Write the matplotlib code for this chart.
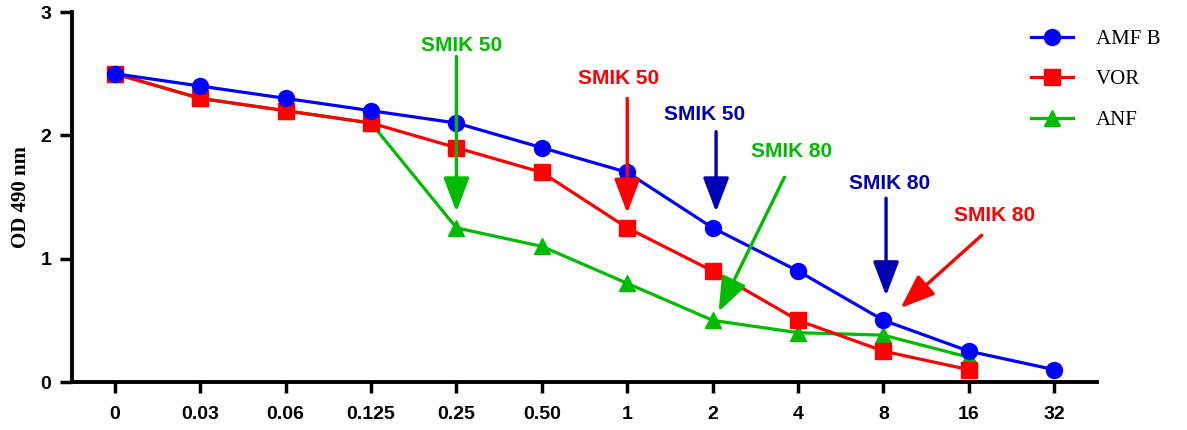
import matplotlib
matplotlib.use("Agg")
import matplotlib.pyplot as plt

# 数据
concentrations = ["0", "0.03", "0.06", "0.125", "0.25", "0.50", "1", "2", "4", "8", "16", "32"]
amfb_od = [2.5, 2.4, 2.3, 2.2, 2.1, 1.9, 1.7, 1.25, 0.9, 0.5, 0.25, 0.1]
vor_od = [2.5, 2.3, 2.2, 2.1, 1.9, 1.7, 1.25, 0.9, 0.5, 0.25, 0.1]
anf_od = [2.5, 2.3, 2.2, 2.1, 1.25, 1.1, 0.8, 0.5, 0.4, 0.38, 0.2]

series_names = ["AMF B", "VOR", "ANF"]

# annotation: text, colour, tail (x, y), tip (x, y), text centre (x, y)
smik_labels = ["SMIK 50", "SMIK 50", "SMIK 50", "SMIK 80", "SMIK 80", "SMIK 80"]
smik_colors = ["#00BB00", "#FF0000", "#0000B4", "#00BB00", "#0000B4", "#FF0000"]
smik_tail = [(4, 2.64), (6, 2.30), (7.04, 2.03), (7.84, 1.66), (9.03, 1.49), (10.15, 1.19)]
smik_tip = [(4, 1.38), (6, 1.37), (7.04, 1.38), (7.07, 0.57), (9.03, 0.70), (9.2, 0.60)]
smik_text = [(4.06, 2.73), (5.9, 2.46), (6.91, 2.17), (7.92, 1.87), (9.07, 1.61), (10.3, 1.35)]


def main():
    fig = plt.figure(figsize=(11.87, 4.30), dpi=100)
    ax = fig.add_axes([0.0607, 0.1116, 0.8635, 0.8604])

    xs = list(range(len(concentrations)))

    # 先画 ANF，再画 VOR，最后 AMF B（叠放顺序同原图）
    ax.plot(xs[:len(anf_od)], anf_od, color="#00BB00", lw=2.3, marker="^", ms=11,
            label=series_names[2], zorder=3)
    ax.plot(xs[:len(vor_od)], vor_od, color="#FF0000", lw=2.3, marker="s", ms=11,
            label=series_names[1], zorder=4)
    ax.plot(xs, amfb_od, color="#0000FF", lw=2.3, marker="o", ms=11.5,
            label=series_names[0], zorder=5)

    # 箭头标注
    for label, col, tail, tip, tpos in zip(smik_labels, smik_colors, smik_tail, smik_tip, smik_text):
        ax.annotate("", xy=tip, xytext=tail,
                    arrowprops=dict(arrowstyle="-|>,head_length=2.1,head_width=0.8",
                                    color=col, lw=2.4, shrinkA=0, shrinkB=0),
                    zorder=6)
        ax.text(tpos[0], tpos[1], label, color=col, fontsize=15, fontweight="bold",
                family="Liberation Sans", ha="center", va="center", zorder=6)

    ax.set_xlim(-0.5, 11.5)
    ax.set_ylim(0, 3)
    ax.set_xticks(xs)
    ax.set_xticklabels(concentrations)
    ax.set_yticks([0, 1, 2, 3])

    for side in ["top", "right"]:
        ax.spines[side].set_visible(False)
    for side in ["left", "bottom"]:
        ax.spines[side].set_linewidth(2.8)

    ax.tick_params(axis="y", length=9, width=2.5, labelsize=14, pad=6)
    ax.tick_params(axis="x", length=8, width=2.5, labelsize=14, pad=9)
    for lab in ax.get_xticklabels() + ax.get_yticklabels():
        lab.set_fontweight("bold")
        lab.set_family("Liberation Sans")

    ax.set_ylabel("OD 490 nm", fontsize=15, fontweight="bold", family="Liberation Serif",
                  labelpad=7)

    handles, labels = ax.get_legend_handles_labels()
    order = [2, 1, 0]
    ax.legend([handles[i] for i in order], [labels[i] for i in order],
              loc="upper left", bbox_to_anchor=(0.853, 0.975), bbox_transform=fig.transFigure,
              frameon=False, handlelength=2.0, handletextpad=1.1, labelspacing=1.0,
              prop={"family": "Liberation Serif", "size": 15})

    fig.savefig("out.png", dpi=100)


if __name__ == "__main__":
    main()
